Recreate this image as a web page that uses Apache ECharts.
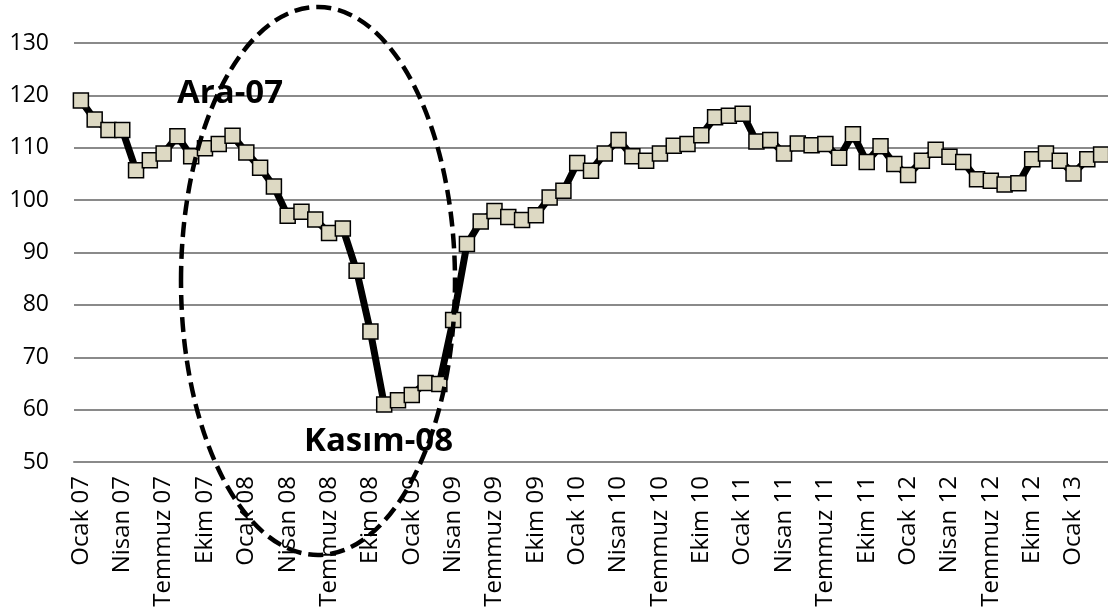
<!DOCTYPE html>
<html>
<head>
<meta charset="utf-8">
<script src="https://cdn.jsdelivr.net/npm/echarts@6/dist/echarts.min.js"></script>
<style>
html,body{margin:0;padding:0;background:#fff;overflow:hidden;}
#chart{width:1108px;height:611px;}
</style>
</head>
<body>
<div id="chart"></div>
<script>
// Month names and years for the category axis
const monthNames = ["Ocak","Şubat","Mart","Nisan","Mayıs","Haziran","Temmuz","Ağustos","Eylül","Ekim","Kasım","Aralık"];
const years = ["07","08","09","10","11","12","13"];
const monthCount = 75; // Ocak 07 .. Mart 13

// Index values
const values = [
  119.0, 115.4, 113.4, 113.4, 105.7, 107.6, 108.9, 112.2, 108.4, 109.9, 110.7, 112.3,
  109.1, 106.2, 102.6, 97.0, 97.8, 96.3, 93.7, 94.6, 86.5, 74.9, 61.0, 61.8,
  62.8, 65.1, 64.9, 77.1, 91.6, 95.9, 97.9, 96.8, 96.2, 97.1, 100.5, 101.8,
  107.1, 105.6, 108.9, 111.5, 108.4, 107.5, 108.9, 110.4, 110.7, 112.4, 115.8, 116.1,
  116.5, 111.2, 111.5, 108.9, 110.8, 110.5, 110.7, 108.1, 112.6, 107.3, 110.3, 106.9,
  104.8, 107.5, 109.6, 108.3, 107.3, 104.0, 103.7, 103.0, 103.2, 107.8, 108.9, 107.5,
  105.1, 107.8, 108.7
];

// Y axis range
const yMin = 50, yMax = 130, yStep = 10;

// Annotation texts
const annotations = ["Ara-07", "Kasım-08"];

const categories = [];
for (let i = 0; i < monthCount; i++) {
  categories.push(monthNames[i % 12] + " " + years[Math.floor(i / 12)]);
}

const chart = echarts.init(document.getElementById('chart'), null, {renderer: 'canvas'});
const axisFont = '"Open Sans", "Liberation Sans", sans-serif';

chart.setOption({
  animation: false,
  backgroundColor: '#ffffff',
  grid: {left: 74, right: -2, top: 43, bottom: 149, containLabel: false},
  xAxis: {
    type: 'category',
    data: categories,
    boundaryGap: true,
    axisLine: {show: true, lineStyle: {color: '#8a8a8a', width: 2}},
    axisTick: {show: false},
    axisLabel: {
      interval: 2,
      rotate: 90,
      margin: 14,
      color: '#000',
      fontSize: 24,
      fontFamily: axisFont
    },
    splitLine: {show: false}
  },
  yAxis: {
    type: 'value',
    min: yMin,
    max: yMax,
    interval: yStep,
    axisLine: {show: false},
    axisTick: {show: false},
    axisLabel: {
      margin: 25,
      color: '#000',
      fontSize: 23,
      fontFamily: axisFont
    },
    splitLine: {show: true, lineStyle: {color: '#8a8a8a', width: 2}}
  },
  series: [{
    type: 'line',
    data: values,
    symbol: 'rect',
    symbolSize: 15,
    showAllSymbol: true,
    lineStyle: {color: '#000', width: 7},
    itemStyle: {color: '#ddd9c3', borderColor: '#000', borderWidth: 1.5},
    emphasis: {disabled: true}
  }],
  graphic: [
    {
      type: 'text',
      left: 177,
      top: 77,
      z: 100,
      style: {
        text: annotations[0],
        font: 'bold 33px "Open Sans", "Liberation Sans", sans-serif',
        fill: '#000'
      }
    },
    {
      type: 'text',
      left: 304,
      top: 425,
      z: 100,
      style: {
        text: annotations[1],
        font: 'bold 33px "Open Sans", "Liberation Sans", sans-serif',
        fill: '#000'
      }
    },
    {
      type: 'ellipse',
      z: 110,
      shape: {cx: 318, cy: 281, rx: 137, ry: 274},
      style: {fill: 'none', stroke: '#000', lineWidth: 4.5, lineDash: [15, 7]}
    }
  ]
});
</script>
</body>
</html>
